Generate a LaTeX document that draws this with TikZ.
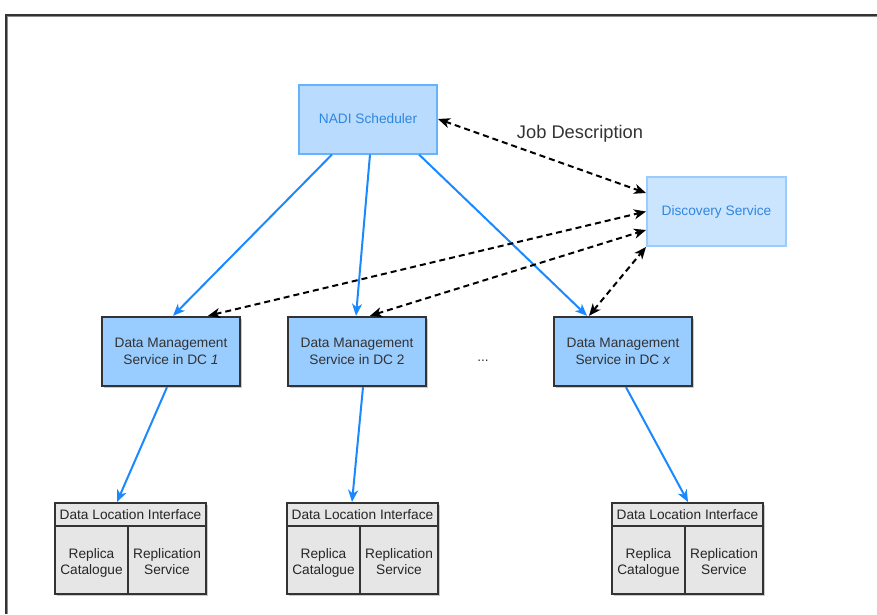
\documentclass[tikz,border=0pt]{standalone}
\usepackage{fontspec}
\setmainfont{Liberation Sans}
\usetikzlibrary{arrows.meta,shadows}

\definecolor{schedfill}{HTML}{B9DBFD}
\definecolor{schedline}{HTML}{66B2FF}
\definecolor{discfill}{HTML}{CCE5FF}
\definecolor{discline}{HTML}{99CCFF}
\definecolor{bluetext}{HTML}{2F86E0}
\definecolor{dmsfill}{HTML}{99CCFF}
\definecolor{darkline}{HTML}{333333}
\definecolor{dlifill}{HTML}{E6E6E6}
\definecolor{flow}{HTML}{1A88FF}

\tikzset{
  boxfont/.style={font=\fontsize{13.7}{16.7}\selectfont},
  lightbox/.style={boxfont, draw, line width=2pt, inner sep=0pt,
    minimum width=138pt, minimum height=69pt, text=bluetext},
  dmsbox/.style={boxfont, draw=darkline, fill=dmsfill, line width=2.4pt,
    inner sep=0pt, minimum width=138pt, minimum height=69pt,
    text=darkline, align=center,
    drop shadow={shadow xshift=1.5pt, shadow yshift=-1.5pt, fill=black!35, opacity=0.6}},
  cellbox/.style={boxfont, draw=darkline, fill=dlifill, line width=2pt,
    inner sep=0pt, text=black!85, align=center},
  tip/.tip={Stealth[length=12pt, width=10pt, inset=3.5pt]},
  flowarrow/.style={draw=flow, line width=2pt, -tip},
  msgarrow/.style={draw=black, line width=2pt, dash pattern=on 6pt off 4pt, tip-tip},
}

% two-line cell text, set a little below the cell's middle
\newcommand\celltext[2]{\raisebox{-3pt}[\height][\depth]{\begin{tabular}{@{}c@{}}#1\\#2\end{tabular}}}

% Data location interface: header plus two cells, left edge at #2
\newcommand\dlibox[2]{%
  \fill[black!35, opacity=0.6] (#2+1.5,504.5) rectangle (#2+152.5,595.5);
  \node[cellbox, minimum width=151pt, minimum height=23pt]
    (#1h) at (#2+75.5,514.5) {Data Location Interface};
  \node[cellbox, minimum width=73pt, minimum height=68pt]
    (#1a) at (#2+36.5,560) {\celltext{Replica}{Catalogue}};
  \node[cellbox, minimum width=78pt, minimum height=68pt]
    (#1b) at (#2+112,560) {\celltext{Replication}{Service}};
}

\begin{document}
\begin{tikzpicture}[x=1pt, y=-1pt]
\useasboundingbox (0,0) rectangle (877,614);

% outer frame, only its top and left edges lie inside the page
\draw[black!45, line width=1pt] (7.5,614) -- (7.5,16.5) -- (877,16.5);
\draw[darkline, line width=1.8pt] (6,614) -- (6,15) -- (877,15);

% services
\node[lightbox, draw=schedline, fill=schedfill] (sched) at (368,119) {NADI Scheduler};
\node[lightbox, draw=discline, fill=discfill, minimum width=139pt] (disc) at (716.5,211.5) {Discovery Service};

\node[dmsbox] (dms1) at (171,351.5) {Data Management\\Service in DC \textit{1}};
\node[dmsbox] (dms2) at (357,351.5) {Data Management\\Service in DC 2};
\node[dmsbox] (dmsx) at (623,351.5) {Data Management\\Service in DC \textit{x}};

\node[boxfont, text=darkline] (dots) at (483,361) {...};

\dlibox{dli1}{55}
\dlibox{dli2}{287}
\dlibox{dli3}{612}

% scheduler dispatches to the data management services
\draw[flowarrow] ([xshift=-36pt]sched.south) -- ([xshift=2pt]dms1.north);
\draw[flowarrow] ([xshift=2pt]sched.south) -- ([xshift=-1pt]dms2.north);
\draw[flowarrow] ([xshift=51pt]sched.south) -- ([xshift=-36pt]dmsx.north);

% each data management service uses its data location interface
\draw[flowarrow] ([xshift=-4pt]dms1.south) -- ([xshift=-13.5pt]dli1h.north);
\draw[flowarrow] ([xshift=6pt]dms2.south) -- ([xshift=-10.5pt]dli2h.north);
\draw[flowarrow] ([xshift=3pt]dmsx.south) -- ([xshift=0.5pt]dli3h.north);

% discovery service exchanges
\draw[msgarrow] (sched.east) -- ([yshift=18.5pt]disc.west);
\node[font=\fontsize{18.3}{22}\selectfont, text=darkline] (jobdesc) at (580,134) {Job Description};
\draw[msgarrow] ([xshift=37pt]dms1.north) -- ([yshift=0pt]disc.west);
\draw[msgarrow] ([xshift=13pt]dms2.north) -- ([yshift=-18.5pt]disc.west);
\draw[msgarrow] ([xshift=-34pt]dmsx.north) -- (disc.south west);
\end{tikzpicture}
\end{document}
